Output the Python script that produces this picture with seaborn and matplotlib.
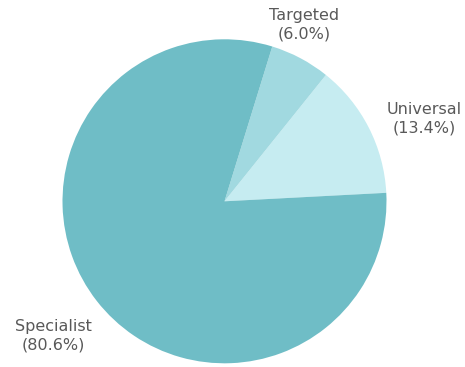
import matplotlib
matplotlib.use("Agg")
import matplotlib.pyplot as plt
import seaborn as sns

# Share of programmes by type
categories = ["Universal", "Targeted", "Specialist"]
shares = [13.4, 6.0, 80.6]
colors = ["#C6ECF1", "#A1D9E0", "#6FBDC6"]

sns.set_theme(style="white")
plt.rcParams["font.family"] = ["DejaVu Sans"]

fig = plt.figure(figsize=(4.65, 3.67), dpi=100)
ax = fig.add_axes([0, 0, 1, 1])

ax.pie(shares, colors=colors, startangle=3, counterclock=True,
       radius=1.0, center=(0, 0),
       wedgeprops=dict(linewidth=0, edgecolor="none"))

# Axis limits chosen so one data unit equals the pie radius
r_px = 162.0
cx, cy = 224.5, 367 - 201.3
ax.set_xlim(-cx / r_px, (465 - cx) / r_px)
ax.set_ylim(-cy / r_px, (367 - cy) / r_px)
ax.set_aspect("auto")
ax.axis("off")

label_pos = {
    "Universal": (1.235, 0.508),
    "Targeted": (0.494, 1.088),
    "Specialist": (-1.056, -0.831),
}
for name, val in zip(categories, shares):
    x, y = label_pos[name]
    ax.text(x, y, f"{name}\n({val:.1f}%)", ha="center", va="center",
            multialignment="center", fontsize=11.5, color="#595959",
            linespacing=1.3)

fig.savefig("out.png", dpi=100, facecolor="white")
